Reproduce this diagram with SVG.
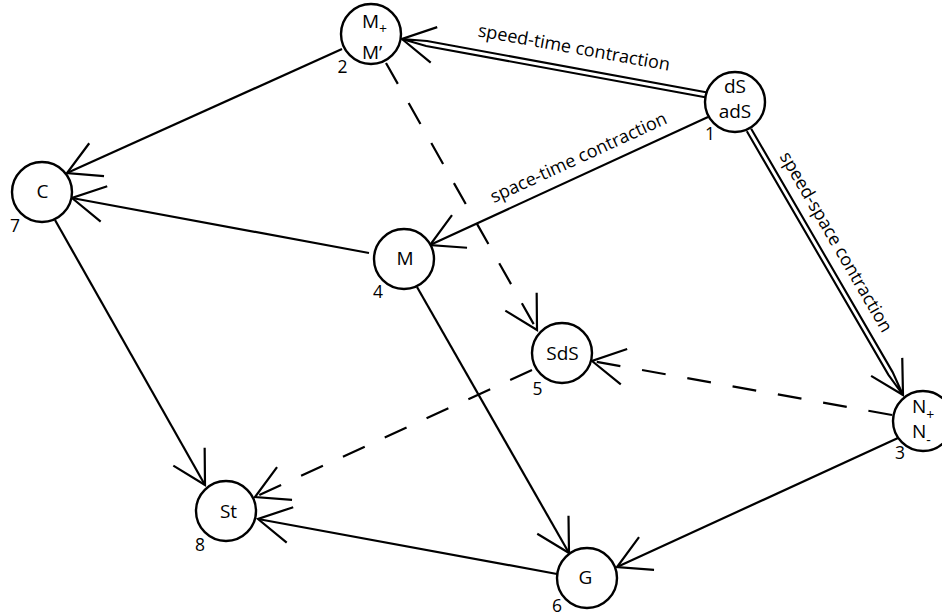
<svg xmlns="http://www.w3.org/2000/svg" width="942" height="616" viewBox="0 0 942 616">
<defs>
<style>
.n circle{fill:#fff;stroke:#000;stroke-width:2.4}
text{font-family:"Open Sans","Noto Sans",sans-serif;fill:#000}
.lbl{font-size:19px;text-anchor:middle}
.lbs{font-size:19px;text-anchor:start}
.num{font-size:17.5px;text-anchor:middle}
.sub{font-size:14px}
.e{fill:none;stroke:#000;stroke-width:2.2;marker-end:url(#ah)}
.d{stroke-dasharray:24 22}
.dbl{fill:none;stroke:#000;stroke-width:2.1}
.head{fill:none;stroke:#000;stroke-width:2.2;marker-end:url(#ah)}
.elbl{font-size:18px;text-anchor:middle}
</style>
<marker id="ah" markerUnits="userSpaceOnUse" orient="auto" overflow="visible" markerWidth="1" markerHeight="1"><path d="M-32.5,-18 L0,0 L-32.5,18" fill="none" stroke="#000" stroke-width="2.2"/></marker>
</defs>
<rect width="942" height="616" fill="#fff"/>
<g id="connectors">
<g id="e1-2"><path class="dbl" d="M706.55,97.46 L426.14,45.97 L402,39 M707.45,92.54 L427.04,41.05 L402,39"/><path class="head" d="M411.8,40.8 L402,39"/></g>
<g id="e1-3"><path class="dbl" d="M746.84,131.26 L888.29,374.65 L903,395 M751.16,128.75 L892.61,372.1 L903,395"/><path class="head" d="M897.98,386.35 L903,395"/></g>
<path id="e1-4" class="e" d="M708,117 L430,245"/>
<path id="e2-7" class="e" d="M342,49 L67,173"/>
<path id="e4-7" class="e" d="M369,253 L72,198"/>
<path id="e2-5" class="e d" d="M386,63 L537,330"/>
<path id="e3-5" class="e d" d="M892,415 L592,361"/>
<path id="e5-8" class="e d" d="M532,370 L255,497"/>
<path id="e7-8" class="e" d="M55,220 L205,485"/>
<path id="e4-6" class="e" d="M417,287 L569,553"/>
<path id="e3-6" class="e" d="M898,438 L617,567"/>
<path id="e6-8" class="e" d="M557,574 L258,519"/>
<text class="elbl" transform="translate(573,53.5) rotate(10.2)">speed-time contraction</text>
<text class="elbl" transform="translate(581,163) rotate(-24.7)">space-time contraction</text>
<text class="elbl" transform="translate(831,245) rotate(59.8)">speed-space contraction</text>
</g>
<g id="node1" class="n"><circle cx="735" cy="102" r="30"/><text class="lbl" x="735" y="93">dS</text><text class="lbl" x="735" y="118">adS</text><text class="num" x="710" y="140">1</text></g>
<g id="node2" class="n"><circle cx="371" cy="34" r="30"/><text class="lbs" x="362" y="28">M<tspan class="sub" dy="6">+</tspan></text><text class="lbs" x="362" y="59">M’</text><text class="num" x="342.5" y="73">2</text></g>
<g id="node3" class="n"><circle cx="923" cy="421" r="30"/><text class="lbs" x="912" y="413">N<tspan class="sub" dy="7">+</tspan></text><text class="lbs" x="912" y="438">N<tspan class="sub" dy="7">-</tspan></text><text class="num" x="900" y="459">3</text></g>
<g id="node4" class="n"><circle cx="404" cy="259" r="30"/><text class="lbl" x="405" y="265">M</text><text class="num" x="378" y="298">4</text></g>
<g id="node5" class="n"><circle cx="562" cy="353" r="30"/><text class="lbl" x="562.5" y="360">SdS</text><text class="num" x="537.5" y="395">5</text></g>
<g id="node6" class="n"><circle cx="587" cy="578" r="30"/><text class="lbl" x="585.5" y="584">G</text><text class="num" x="557" y="612">6</text></g>
<g id="node7" class="n"><circle cx="42" cy="192" r="30"/><text class="lbl" x="42.5" y="198">C</text><text class="num" x="15" y="232">7</text></g>
<g id="node8" class="n"><circle cx="226" cy="511" r="30"/><text class="lbl" x="228.5" y="518">St</text><text class="num" x="200" y="551">8</text></g>
</svg>
